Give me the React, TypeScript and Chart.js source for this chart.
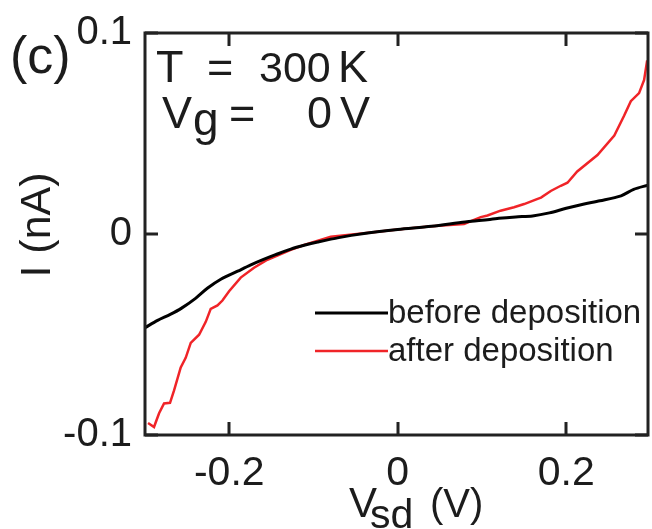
import React, { useEffect, useRef } from "react";
import { Chart, registerables } from "chart.js";

Chart.register(...registerables);

// ---- data ----
const beforeX = [-0.3, -0.285, -0.27, -0.257, -0.24, -0.226, -0.21, -0.19, -0.175, -0.16, -0.145, -0.127, -0.11, -0.095, -0.07, -0.04, 0, 0.04, 0.08, 0.1, 0.12, 0.14, 0.16, 0.18, 0.2, 0.22, 0.24, 0.265, 0.28, 0.297];
const beforeY = [-0.0466, -0.043, -0.04, -0.037, -0.032, -0.027, -0.0225, -0.0185, -0.0155, -0.0128, -0.0103, -0.0075, -0.0055, -0.004, -0.0018, 0.0002, 0.0022, 0.0038, 0.006, 0.0068, 0.0078, 0.0085, 0.009, 0.0105, 0.0128, 0.0148, 0.0165, 0.019, 0.0222, 0.0243];

const afterX = [-0.2964, -0.2893, -0.2833, -0.2774, -0.2703, -0.2655, -0.2576, -0.2517, -0.2457, -0.2358, -0.2279, -0.222, -0.214, -0.2081, -0.2002, -0.1864, -0.1706, -0.1547, -0.127, -0.1112, -0.0795, -0.04, 0, 0.04, 0.0787, 0.0985, 0.1065, 0.122, 0.138, 0.15, 0.166, 0.17, 0.1816, 0.1935, 0.2014, 0.213, 0.237, 0.257, 0.2686, 0.2766, 0.2864, 0.2924, 0.296];
const afterY = [-0.094, -0.096, -0.0892, -0.0843, -0.084, -0.0778, -0.0664, -0.0616, -0.0542, -0.0501, -0.0437, -0.0372, -0.0355, -0.0331, -0.0285, -0.0217, -0.0168, -0.0128, -0.0079, -0.0055, -0.0014, 0.0004, 0.0022, 0.0038, 0.005, 0.0084, 0.0092, 0.0116, 0.0133, 0.0149, 0.0175, 0.0181, 0.0214, 0.024, 0.0255, 0.0311, 0.0393, 0.049, 0.0588, 0.0661, 0.0701, 0.0767, 0.0864];

const xTicks = [-0.2, 0, 0.2];
const xTickLabels = ["-0.2", "0", "0.2"];
const yTicks = [-0.1, 0, 0.1];
const yTickLabels = ["-0.1", "0", "0.1"];

const seriesNames = ["before deposition", "after deposition"];
const seriesColors = ["#000000", "#f02428"];

const FONT = "'Liberation Sans', Arial, Helvetica, sans-serif";
const INK = "#1c1c1c";

const decorPlugin = {
  id: "decor",
  afterDatasetsDraw(chart: any) {
    const { ctx, chartArea: a, scales } = chart;
    const xs = scales.x;
    const ys = scales.y;
    ctx.save();
    // frame
    ctx.strokeStyle = "#222";
    ctx.lineWidth = 3;
    ctx.strokeRect(a.left, a.top, a.right - a.left, a.bottom - a.top);
    // inward ticks
    const tl = 13;
    ctx.beginPath();
    xTicks.forEach((v) => {
      const px = Math.round(xs.getPixelForValue(v));
      ctx.moveTo(px, a.bottom);
      ctx.lineTo(px, a.bottom - tl);
      ctx.moveTo(px, a.top);
      ctx.lineTo(px, a.top + tl);
    });
    yTicks.forEach((v) => {
      const py = Math.round(ys.getPixelForValue(v));
      ctx.moveTo(a.left, py);
      ctx.lineTo(a.left + tl, py);
      ctx.moveTo(a.right, py);
      ctx.lineTo(a.right - tl, py);
    });
    ctx.stroke();

    ctx.fillStyle = INK;
    ctx.textBaseline = "alphabetic";
    ctx.textAlign = "left";
    // panel label
    ctx.font = `52px ${FONT}`;
    ctx.fillText("(c)", 10, 73);
    // annotation line 1
    ctx.font = `45px ${FONT}`;
    ctx.fillText("T", 156, 82);
    ctx.fillText("=", 207, 82);
    ctx.font = `43px ${FONT}`;
    ctx.fillText("300", 259, 82);
    ctx.font = `45px ${FONT}`;
    ctx.fillText("K", 338, 82);
    // annotation line 2
    ctx.fillText("V", 162, 128);
    ctx.font = `46px ${FONT}`;
    ctx.fillText("g", 193, 135);
    ctx.font = `45px ${FONT}`;
    ctx.fillText("=", 229, 128);
    ctx.fillText("0", 307, 128);
    ctx.fillText("V", 340, 128);

    // x title
    ctx.font = `42px ${FONT}`;
    ctx.fillText("V", 349, 517);
    ctx.font = `41px ${FONT}`;
    ctx.fillText("sd", 370, 528);
    ctx.font = `40px ${FONT}`;
    ctx.fillText("(V)", 430, 517);

    // y title
    ctx.save();
    ctx.translate(50, 225);
    ctx.rotate(-Math.PI / 2);
    ctx.font = `43px ${FONT}`;
    ctx.textAlign = "center";
    ctx.fillText("I (nA)", 0, 0);
    ctx.restore();

    // legend
    const legY = [313, 351];
    const legW = [3, 2.5];
    seriesNames.forEach((name, i) => {
      ctx.strokeStyle = seriesColors[i];
      ctx.lineWidth = legW[i];
      ctx.beginPath();
      ctx.moveTo(315, legY[i]);
      ctx.lineTo(388, legY[i]);
      ctx.stroke();
      ctx.fillStyle = INK;
      ctx.font = `33px ${FONT}`;
      ctx.textBaseline = "middle";
      ctx.fillText(name, 388, legY[i] + 1);
    });
    ctx.restore();
  },
};

export default function App() {
  const ref = useRef<HTMLCanvasElement | null>(null);
  useEffect(() => {
    document.body.style.margin = "0";
    const canvas = ref.current!;
    const chart = new Chart(canvas, {
      type: "line",
      data: {
        datasets: [
          {
            label: seriesNames[0],
            data: beforeX.map((x, i) => ({ x, y: beforeY[i] })),
            borderColor: seriesColors[0],
            borderWidth: 3,
            pointRadius: 0,
            tension: 0.3,
          },
          {
            label: seriesNames[1],
            data: afterX.map((x, i) => ({ x, y: afterY[i] })),
            borderColor: seriesColors[1],
            borderWidth: 2.5,
            pointRadius: 0,
            tension: 0,
          },
        ],
      },
      options: {
        responsive: false,
        animation: false,
        devicePixelRatio: 1,
        layout: { padding: { left: 0, top: 25, right: 4, bottom: 0 } },
        plugins: { legend: { display: false }, tooltip: { enabled: false } },
        scales: {
          x: {
            type: "linear",
            min: -0.3,
            max: 0.297,
            grid: { display: false, drawTicks: false },
            border: { display: false },
            afterFit: (s: any) => {
              s.height = 94;
            },
            afterBuildTicks: (s: any) => {
              s.ticks = xTicks.map((v) => ({ value: v }));
            },
            ticks: {
              padding: 14,
              autoSkip: false,
              maxRotation: 0,
              color: INK,
              font: { family: FONT, size: 41 },
              callback: (v: any) => xTickLabels[xTicks.indexOf(Number(v))] ?? "",
            },
          },
          y: {
            type: "linear",
            min: -0.1,
            max: 0.1,
            grid: { display: false, drawTicks: false },
            border: { display: false },
            afterFit: (s: any) => {
              s.width = 145;
            },
            afterBuildTicks: (s: any) => {
              s.ticks = yTicks.map((v) => ({ value: v }));
            },
            ticks: {
              padding: 13,
              autoSkip: false,
              color: INK,
              font: { family: FONT, size: 40, lineHeight: 1 },
              callback: (v: any) => yTickLabels[yTicks.indexOf(Number(v))] ?? "",
            },
          },
        },
      },
      plugins: [decorPlugin],
    });
    return () => chart.destroy();
  }, []);
  return (
    <div style={{ position: "fixed", left: 0, top: 0, width: 652, height: 529, background: "#fff" }}>
      <canvas ref={ref} width={652} height={529} style={{ width: 652, height: 529, display: "block" }} />
    </div>
  );
}
